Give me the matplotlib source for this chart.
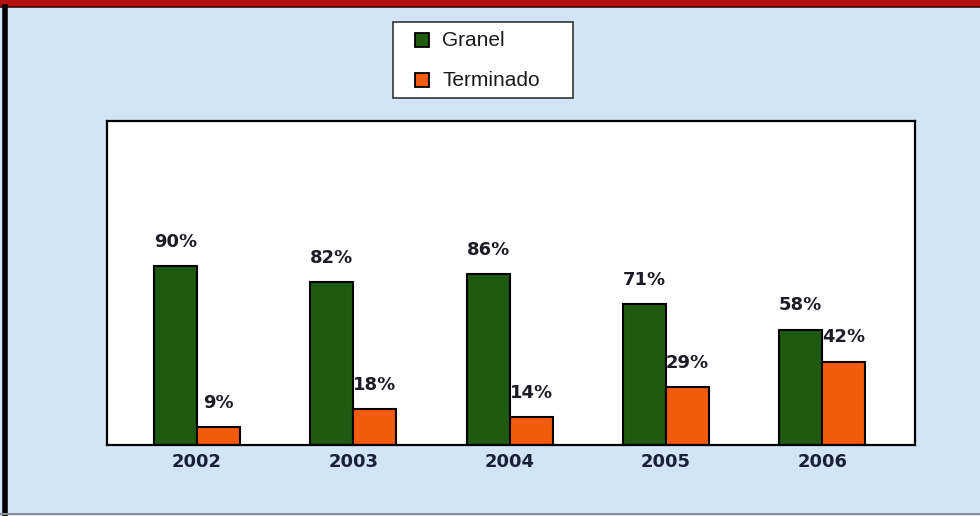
import matplotlib.pyplot as plt
import numpy as np
from matplotlib.lines import Line2D
from matplotlib.patches import Rectangle

anos = ["2002", "2003", "2004", "2005", "2006"]
granel = [90, 82, 86, 71, 58]
terminado = [9, 18, 14, 29, 42]
series = ["Granel", "Terminado"]

cor_granel = "#1f5a10"
cor_terminado = "#f25a0c"
cor_fundo = "#d2e4f6"

W, H = 980, 516
fig = plt.figure(figsize=(W / 100, H / 100), dpi=100)
fig.patch.set_facecolor(cor_fundo)


def px(x0, y0, w, h):
    # caixa em pixels (origem em cima) -> fração da figura
    return (x0 / W, 1 - (y0 + h) / H), w / W, h / H


# moldura: faixa vermelha em cima, linha preta na esquerda
fig.add_artist(Rectangle((0, 0.987), 1, 0.013, transform=fig.transFigure,
                         facecolor="#b3100f", edgecolor="none"))
fig.add_artist(Line2D([0, 1], [0.986, 0.986], transform=fig.transFigure,
                      color="#3a0a0a", lw=1.2))
fig.add_artist(Line2D([0.0055, 0.0055], [0, 0.987], transform=fig.transFigure,
                      color="black", lw=4))
fig.add_artist(Line2D([0, 1], [0.004, 0.004], transform=fig.transFigure,
                      color="#8a8f98", lw=1.5))

ax = fig.add_axes([0.1092, 0.1376, 0.8245, 0.628])
ax.set_facecolor("white")

x = np.arange(len(anos))
largura = 0.275

b1 = ax.bar(x - largura / 2, granel, largura, color=cor_granel,
            edgecolor="black", linewidth=1.5, label=series[0])
b2 = ax.bar(x + largura / 2, terminado, largura, color=cor_terminado,
            edgecolor="black", linewidth=1.5, label=series[1])

for barras, valores in [(b1, granel), (b2, terminado)]:
    for barra, v in zip(barras, valores):
        ax.annotate(f"{v}%", (barra.get_x() + barra.get_width() / 2, v),
                    xytext=(0, 11), textcoords="offset points",
                    ha="center", va="bottom", fontsize=13, fontweight="bold",
                    color="#1c1c24", family="DejaVu Sans")

ax.set_xlim(-0.576, 4.594)
ax.set_ylim(0, 163)
ax.set_xticks(x)
ax.set_xticklabels(anos, fontsize=13, fontweight="bold", color="#1a2038")
ax.tick_params(axis="x", length=0, pad=6)
ax.set_yticks([])
for s in ax.spines.values():
    s.set_linewidth(1.6)
    s.set_color("black")

# legenda desenhada à mão para acertar o tamanho da caixa
xy, w, h = px(393, 22, 180, 76)
fig.add_artist(Rectangle(xy, w, h, transform=fig.transFigure,
                         facecolor="white", edgecolor="#333333", lw=1.2))
for i, (nome, cor) in enumerate([(series[0], cor_granel), (series[1], cor_terminado)]):
    yc = 40 + 40 * i
    xy, w, h = px(415, yc - 7, 14, 14)
    fig.add_artist(Rectangle(xy, w, h, transform=fig.transFigure,
                             facecolor=cor, edgecolor="black", lw=1.3))
    fig.text(442 / W, 1 - yc / H, nome, ha="left", va="center",
             fontsize=15, family="Liberation Sans", color="#1a1a1a")

fig.savefig("out.png", dpi=100, facecolor=fig.get_facecolor())
